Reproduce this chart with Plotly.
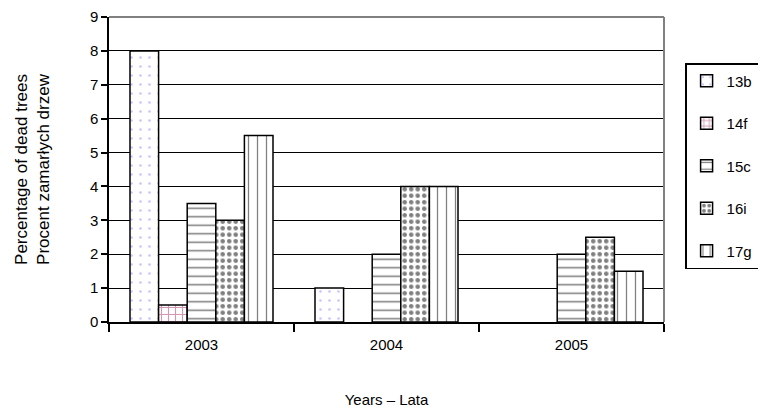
import plotly.graph_objects as go

years = ["2003", "2004", "2005"]
series_names = ["13b", "14f", "15c", "16i", "17g"]
v13b = [8, 1, 0]
v14f = [0.5, 0, 0]
v15c = [3.5, 2, 2]
v16i = [3, 4, 2.5]
v17g = [5.5, 4, 1.5]
values = [v13b, v14f, v15c, v16i, v17g]
y_ticks = [0, 1, 2, 3, 4, 5, 6, 7, 8, 9]

patterns = [
    dict(shape=".", fgcolor="#8f8fff", bgcolor="white", size=9, solidity=0.07, fillmode="overlay"),
    dict(shape="+", fgcolor="#a8306a", bgcolor="white", size=7, solidity=0.3, fillmode="overlay"),
    dict(shape="-", fgcolor="black", bgcolor="white", size=8.5, solidity=0.18, fillmode="overlay"),
    dict(shape=".", fgcolor="black", bgcolor="white", size=6.5, solidity=0.4, fillmode="overlay"),
    dict(shape="|", fgcolor="black", bgcolor="white", size=9, solidity=0.14, fillmode="overlay"),
]

fig = go.Figure()
for name, vals, pat in zip(series_names, values, patterns):
    fig.add_trace(go.Bar(
        x=years, y=[v if v != 0 else None for v in vals], name=name, legendgroup=name,
        marker=dict(color="white", line=dict(color="black", width=1.5), pattern=pat),
    ))

fig.update_layout(
    width=758, height=404,
    margin=dict(l=101, r=102, t=9, b=90, autoexpand=False),
    paper_bgcolor="white", plot_bgcolor="white",
    font=dict(family="Liberation Sans, Arial, sans-serif", size=15, color="black"),
    barmode="group", bargap=0.227, bargroupgap=0,
    showlegend=True,
    legend=dict(
        x=1.038, y=0.849, xanchor="left", yanchor="top",
        bordercolor="black", borderwidth=1.5, bgcolor="white",
        tracegroupgap=20, traceorder="grouped",
        font=dict(size=15),
        itemwidth=30,
    ),
    xaxis=dict(
        type="category", showline=True, linecolor="black", linewidth=1.5,
        ticks="outside", ticklen=8, tickwidth=1.5, tickcolor="black",
        tickson="boundaries", showgrid=False, automargin=False,
        ticklabelstandoff=8, tickfont=dict(size=15),
        title=dict(text="Years – Lata", standoff=43, font=dict(size=15)),
    ),
    yaxis=dict(
        range=[0, 9], tickvals=y_ticks, showline=True, linecolor="black", linewidth=1.5,
        ticks="outside", ticklen=6, tickwidth=1.5, tickcolor="black",
        showgrid=True, gridcolor="black", gridwidth=1.3, zeroline=False, automargin=False,
        tickfont=dict(size=15),
        title=dict(text="Percentage of dead trees<br>Procent zamarłych drzew", standoff=36, font=dict(size=17)),
    ),
    shapes=[
        dict(type="line", xref="paper", yref="paper", x0=0, x1=1, y0=1, y1=1,
             line=dict(color="#808080", width=2), layer="above"),
        dict(type="line", xref="paper", yref="paper", x0=1, x1=1, y0=0, y1=1,
             line=dict(color="#808080", width=2), layer="above"),
    ],
)

fig.write_html("out.html")
